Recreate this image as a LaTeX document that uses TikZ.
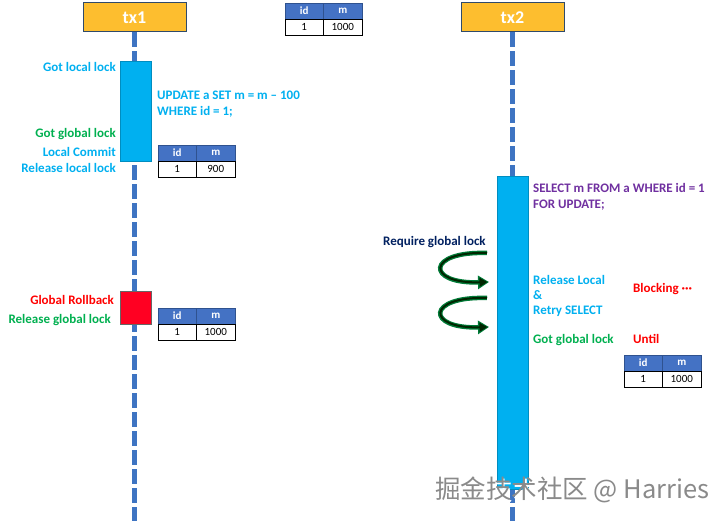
\documentclass[tikz,border=0pt]{standalone}
\usepackage{fontspec}
\setmainfont{Carlito}
\newfontfamily\cjk{Noto Sans CJK SC}
\usetikzlibrary{arrows.meta}
\definecolor{txorange}{HTML}{FDBE2F}
\definecolor{txborder}{HTML}{2F4A6B}
\definecolor{cyanC}{HTML}{00B0F0}
\definecolor{greenC}{HTML}{00B050}
\definecolor{redC}{HTML}{FF0000}
\definecolor{redbox}{HTML}{FF0022}
\definecolor{purpleC}{HTML}{7030A0}
\definecolor{navyC}{HTML}{002060}
\definecolor{lifeC}{HTML}{3E74C2}
\definecolor{hdrC}{HTML}{4472C4}
\definecolor{hdrB}{HTML}{2F528F}
\definecolor{wmC}{HTML}{8A8A8A}
\tikzset{
  txbox/.style={draw=txborder, line width=1pt, fill=txorange, minimum width=103pt, minimum height=29pt, inner sep=0pt, text=white, font=\bfseries\fontsize{18}{20}\selectfont},
  life/.style={draw=lifeC, line width=5pt, dash pattern=on 15pt off 4pt},
  actbox/.style={draw=cyanC!80!black, line width=0.4pt, fill=cyanC, inner sep=0pt, minimum width=31pt},
  rbbox/.style={draw=black!60, line width=0.4pt, fill=redbox, inner sep=0pt, minimum width=31pt, minimum height=33pt},
  thead/.style={draw=hdrB, line width=0.6pt, fill=hdrC, text=white, font=\bfseries\fontsize{11}{12}\selectfont, minimum width=38.5pt, minimum height=16pt, inner sep=0pt, outer sep=0pt},
  tcell/.style={draw=black, line width=0.8pt, fill=white, text=black, font=\fontsize{11}{12}\selectfont, minimum width=38.5pt, minimum height=16pt, inner sep=0pt, outer sep=0pt},
  lbl/.style={font=\bfseries\fontsize{13}{15}\selectfont, inner sep=0pt, align=left},
  garrowout/.style={draw=greenC!70!black, line width=4.5pt, -{Triangle[length=11pt,width=13pt]}},
  garrowin/.style={draw=black!85!green, line width=2pt, -{Triangle[length=8pt,width=8.5pt]}, shorten >=1.5pt},
}
\newcommand\dbtable[3]{%
  \node[thead, anchor=north west] (#1id) at (#2) {id};
  \node[thead, anchor=west] (#1m) at (#1id.east) {m};
  \node[tcell, anchor=north] (#1v1) at (#1id.south) {1};
  \node[tcell, anchor=north] (#1v2) at (#1m.south) {#3};
}
\begin{document}
\begin{tikzpicture}[x=1pt,y=-1pt]
\useasboundingbox[fill=white] (0,0) rectangle (724,521);
% headers
\node[txbox] (tx1) at (134.5,17.5) {tx1};
\node[txbox] (tx2) at (512.5,17.5) {tx2};
\coordinate (e1) at (134.5,521);
\coordinate (e2) at (512.5,521);
% lifelines
\draw[life] (tx1.south) -- (e1);
\draw[life] (tx2.south) -- (e2);
% activations
\node[actbox, minimum height=100pt] (act1) at (135.5,111) {};
\node[rbbox] (rb) at (135.5,307.5) {};
\node[actbox, minimum height=313pt] (act2) at (512.5,332.5) {};
% tables
\coordinate (t0) at (285,3);
\coordinate (t1) at (158,145);
\coordinate (t2) at (158,308);
\coordinate (t3) at (624,355);
\dbtable{ta}{t0}{1000}
\dbtable{tb}{t1}{900}
\dbtable{tc}{t2}{1000}
\dbtable{td}{t3}{1000}
% tx1 labels
\node[lbl, text=cyanC, anchor=east] (l1) at (116,67) {Got local lock};
\node[lbl, text=cyanC, anchor=north west] (l2) at (157,91) {UPDATE a SET m = m -- 100\\[1pt]WHERE id = 1;};
\node[lbl, text=greenC, anchor=east] (l3) at (116,134) {Got global lock};
\node[lbl, text=cyanC, anchor=east] (l4) at (116,152) {Local Commit};
\node[lbl, text=cyanC, anchor=east] (l5) at (116,168) {Release local lock};
\node[lbl, text=redC, anchor=east] (l6) at (114,300) {Global Rollback};
\node[lbl, text=greenC, anchor=east] (l7) at (111,320) {Release global lock};
% tx2 labels
\node[lbl, text=purpleC, anchor=north west] (l8) at (533,183) {SELECT m FROM a WHERE id = 1\\[1pt]FOR UPDATE;};
\node[lbl, text=navyC, anchor=west] (l9) at (383,242) {Require global lock};
\node[lbl, text=cyanC, anchor=north west] (l10) at (533,275) {Release Local\\\&\\Retry SELECT};
\node[lbl, text=redC, anchor=west] (l11) at (633,289) {Blocking \textperiodcentered\textperiodcentered\textperiodcentered};
\node[lbl, text=greenC, anchor=west] (l12) at (533,340) {Got global lock};
\node[lbl, text=redC, anchor=west] (l13) at (633,339) {Until};
% retry arrows
\coordinate (a1s) at (487,253);
\coordinate (a1e) at (489,282);
\coordinate (a2s) at (487,298);
\coordinate (a2e) at (489,327);
\draw[garrowout] (a1s) .. controls (426,251) and (426,284) .. (a1e);
\draw[garrowin]  (a1s) .. controls (426,251) and (426,284) .. (a1e);
\draw[garrowout] (a2s) .. controls (426,296) and (426,329) .. (a2e);
\draw[garrowin]  (a2s) .. controls (426,296) and (426,329) .. (a2e);
% watermark
\node[text=white, font=\cjk\fontsize{25.5}{27}\selectfont, anchor=west, inner sep=0pt] (wms) at (436.5,491.5) {掘金技术社区 @ Harries};
\node[text=wmC, font=\cjk\fontsize{25.5}{27}\selectfont, anchor=west, inner sep=0pt] (wm) at (435,490) {掘金技术社区 @ Harries};
\end{tikzpicture}
\end{document}
